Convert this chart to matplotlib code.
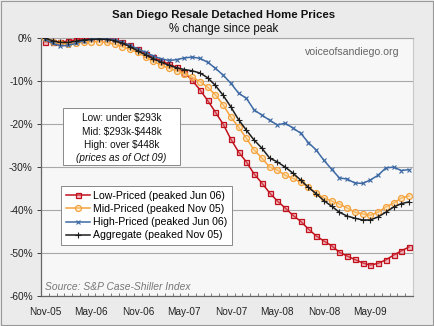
import matplotlib
matplotlib.use("Agg")
import matplotlib.pyplot as plt
from matplotlib.patches import Rectangle
import numpy as np

plt.rcParams["font.family"] = ["Liberation Sans", "DejaVu Sans"]

months = ["Nov-05","Dec-05","Jan-06","Feb-06","Mar-06","Apr-06","May-06","Jun-06","Jul-06","Aug-06","Sep-06","Oct-06",
          "Nov-06","Dec-06","Jan-07","Feb-07","Mar-07","Apr-07","May-07","Jun-07","Jul-07","Aug-07","Sep-07","Oct-07",
          "Nov-07","Dec-07","Jan-08","Feb-08","Mar-08","Apr-08","May-08","Jun-08","Jul-08","Aug-08","Sep-08","Oct-08",
          "Nov-08","Dec-08","Jan-09","Feb-09","Mar-09","Apr-09","May-09","Jun-09","Jul-09","Aug-09","Sep-09","Oct-09"]

low = [-0.8,-0.9,-0.9,-0.7,-0.4,-0.1,0.0,0.0,-0.1,-0.3,-0.9,-1.7,
       -2.6,-3.6,-4.5,-5.3,-6.0,-6.8,-8.0,-9.8,-12.0,-14.5,-17.2,-20.0,
       -23.5,-26.5,-28.8,-31.6,-33.7,-36.0,-37.9,-39.5,-41.2,-42.6,-44.4,-46.0,
       -47.2,-48.3,-49.8,-50.7,-51.5,-52.3,-52.8,-52.4,-51.6,-50.5,-49.5,-48.6]

mid = [0.0,-0.8,-1.2,-1.3,-1.1,-0.9,-0.8,-0.8,-1.0,-1.4,-2.0,-2.6,
       -3.3,-4.4,-5.4,-6.3,-7.0,-7.6,-8.3,-9.1,-10.1,-11.4,-13.2,-15.5,
       -18.4,-20.7,-23.3,-26.0,-27.9,-30.0,-30.7,-31.9,-32.6,-33.5,-34.7,-36.0,
       -37.2,-37.9,-38.6,-39.5,-40.5,-40.9,-41.2,-40.5,-39.3,-38.4,-37.2,-36.7]

high = [-0.3,-1.2,-1.8,-1.7,-1.2,-0.6,-0.2,0.0,-0.1,-0.4,-1.0,-1.7,
        -2.5,-3.3,-4.2,-4.8,-5.2,-5.0,-4.6,-4.4,-4.7,-5.6,-7.0,-8.6,
        -10.5,-12.8,-14.0,-16.7,-17.9,-19.1,-20.2,-19.8,-20.9,-22.1,-24.3,-26.0,
        -28.4,-30.5,-32.5,-32.8,-33.7,-33.8,-33.0,-31.9,-30.2,-30.0,-30.8,-30.6]

agg = [0.0,-0.6,-1.0,-1.0,-0.7,-0.4,-0.3,-0.2,-0.3,-0.6,-1.2,-2.0,
       -3.0,-3.9,-4.8,-5.6,-6.3,-6.9,-7.3,-7.6,-8.1,-9.2,-11.0,-13.3,
       -16.0,-19.0,-21.4,-23.7,-25.6,-27.9,-28.8,-30.0,-31.4,-33.0,-34.7,-36.2,
       -37.8,-39.1,-40.5,-41.4,-41.9,-42.3,-42.3,-41.6,-40.5,-39.3,-38.5,-38.1]

labels = ["Low-Priced (peaked Jun 06)", "Mid-Priced (peaked Nov 05)",
          "High-Priced (peaked Jun 06)", "Aggregate (peaked Nov 05)"]
info_lines = ["Low: under \\$293k", "Mid: \\$293k-\\$448k", "High: over \\$448k", "(prices as of Oct 09)"]
yticks = [0, -10, -20, -30, -40, -50, -60]

fig = plt.figure(figsize=(4.34, 3.26), dpi=100, facecolor="#ebebeb")
ax = fig.add_axes([0.0945, 0.092, 0.857, 0.791])
ax.set_facecolor("#f7f7f7")

x = np.arange(len(months))
ax.plot(x, low, color="#c0121c", lw=1.1, marker="s", ms=3.6, mfc=(0.92, 0.45, 0.5, 0.45),
        mec="#c0121c", mew=0.9, label=labels[0], zorder=3)
ax.plot(x, mid, color="#f5a23c", lw=1.1, marker="o", ms=4.3, mfc=(1, 0.85, 0.6, 0.45),
        mec="#f5a23c", mew=0.9, label=labels[1], zorder=3)
ax.plot(x, high, color="#3d69a4", lw=1.1, marker="x", ms=3.2, mew=0.8,
        label=labels[2], zorder=3)
ax.plot(x, agg, color="#1e1e1e", lw=1.1, marker="+", ms=4.2, mew=0.8,
        label=labels[3], zorder=4)

ax.set_xlim(-0.5, len(months) - 0.5)
ax.set_ylim(-60, 0)
ax.set_yticks(yticks)
ax.set_yticklabels([f"{v}%" for v in yticks])
ax.set_xticks(x[::6])
ax.set_xticklabels(months[::6])
ax.set_xticks(np.arange(-0.5, len(months), 1), minor=True)
ax.tick_params(axis="x", which="major", length=0, labelsize=7.2, colors="#222222", pad=8)
ax.tick_params(axis="x", which="minor", length=2.5, direction="in", color="#666666", width=0.6)
ax.tick_params(axis="y", length=3, labelsize=7.3, colors="#222222", direction="out", width=0.6, pad=3)
ax.yaxis.grid(True, color="#a8a8a8", lw=0.8)
ax.set_axisbelow(True)
for s in ["left", "bottom"]:
    ax.spines[s].set_color("#666666")
    ax.spines[s].set_linewidth(0.9)
ax.spines["top"].set_color("#a8a8a8")
ax.spines["right"].set_color("#c8c8c8")

leg = ax.legend(loc="upper left", bbox_to_anchor=(0.054, 0.426), fontsize=7.6, frameon=True,
                fancybox=False, edgecolor="#888888", framealpha=1, borderpad=0.45,
                labelspacing=0.3, handlelength=2.3, handletextpad=0.3, borderaxespad=0)
leg.get_frame().set_linewidth(0.7)
leg.set_zorder(6)

# info box
ax.add_patch(Rectangle((0.059, 0.508), 0.315, 0.22, transform=ax.transAxes,
                       fc="white", ec="#888888", lw=0.7, zorder=5))
info_y = [0.690, 0.637, 0.585, 0.535]
for i, (s, yy) in enumerate(zip(info_lines, info_y)):
    ax.text(0.2165, yy, s, transform=ax.transAxes, fontsize=7.2, ha="center", va="center",
            color="#111111", style="italic" if i == 3 else "normal", zorder=6)

ax.text(0.965, 0.945, "voiceofsandiego.org", transform=ax.transAxes, fontsize=7.6,
        ha="right", va="center", color="#666666")
ax.text(0.01, 0.035, "Source: S&P Case-Shiller Index", transform=ax.transAxes, fontsize=7.4,
        style="italic", ha="left", va="center", color="#777777")

fig.text(0.516, 0.953, "San Diego Resale Detached Home Prices", fontsize=8.2,
         fontweight="bold", ha="center", va="center", color="#111111")
fig.text(0.516, 0.910, "% change since peak", fontsize=8.3, ha="center", va="center", color="#111111")

fig.patches.append(Rectangle((0.002, 0.003), 0.995, 0.994, transform=fig.transFigure,
                             fill=False, ec="#999999", lw=0.8))

fig.savefig("out.png", dpi=100, facecolor=fig.get_facecolor())
